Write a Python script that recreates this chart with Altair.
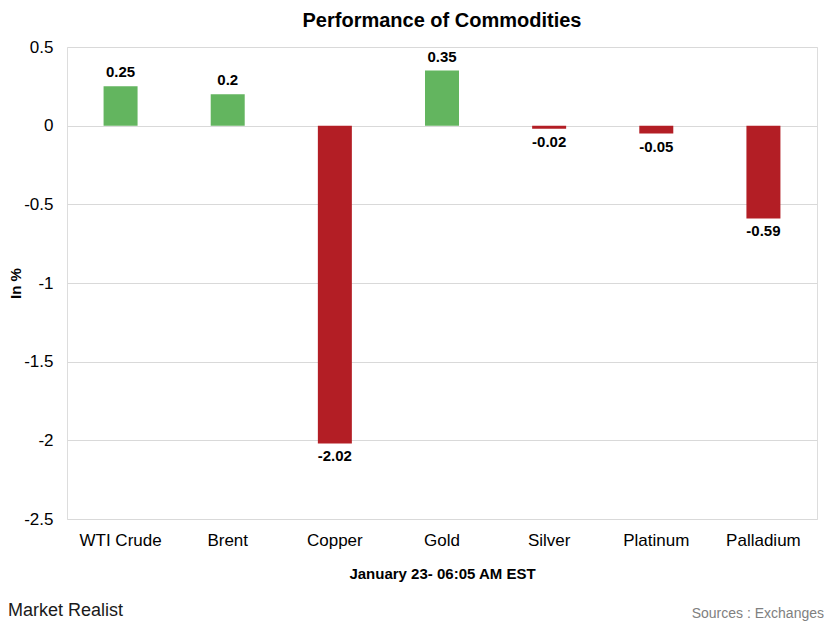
import altair as alt
import pandas as pd

categories = ["WTI Crude", "Brent", "Copper", "Gold", "Silver", "Platinum", "Palladium"]
values = [0.25, 0.2, -2.02, 0.35, -0.02, -0.05, -0.59]

df = pd.DataFrame({"commodity": categories, "value": values})

GREEN = "#63b55f"
RED = "#b31e25"
FONT = "Liberation Sans"

base = alt.Chart(df).transform_calculate(label="datum.value + ''")

x_enc = alt.X(
    "commodity:N",
    sort=None,
    scale=alt.Scale(paddingInner=0.68, paddingOuter=0.34),
    axis=alt.Axis(
        title="January 23- 06:05 AM EST",
        labelAngle=0,
        labelFontSize=17,
        labelFont=FONT,
        labelColor="#000000",
        labelPadding=13,
        ticks=False,
        domain=False,
        titleFont=FONT,
        titleFontSize=15,
        titleFontWeight="bold",
        titlePadding=18,
        titleColor="#000000",
    ),
)
y_enc = alt.Y(
    "value:Q",
    scale=alt.Scale(domain=[-2.5, 0.5], nice=False),
    axis=alt.Axis(
        title="In %",
        values=[0.5, 0, -0.5, -1, -1.5, -2, -2.5],
        labelExpr="datum.value + ''",
        labelFontSize=17,
        labelFont=FONT,
        labelColor="#000000",
        labelPadding=14,
        ticks=False,
        domain=False,
        grid=True,
        gridColor="#d9d9d9",
        gridWidth=1,
        titleFont=FONT,
        titleFontSize=15,
        titleFontWeight="bold",
        titleColor="#000000",
        titleX=-44,
        titleY=236,
        titleAngle=270,
        titleBaseline="bottom",
        titleAlign="center",
    ),
)

bars = base.mark_bar(size=34).encode(
    x=x_enc,
    y=y_enc,
    y2=alt.datum(0),
    color=alt.condition(alt.datum.value > 0, alt.value(GREEN), alt.value(RED)),
)

pos_labels = base.transform_filter(alt.datum.value > 0).mark_text(
    baseline="bottom", dy=-6, fontSize=15, fontWeight="bold", font=FONT, color="#000000"
).encode(x=alt.X("commodity:N", sort=None), y="value:Q", text="label:N")

neg_labels = base.transform_filter(alt.datum.value <= 0).mark_text(
    baseline="top", dy=6, fontSize=15, fontWeight="bold", font=FONT, color="#000000"
).encode(x=alt.X("commodity:N", sort=None), y="value:Q", text="label:N")

footer_left = alt.Chart(pd.DataFrame({"t": ["Market Realist"]})).mark_text(
    align="left", baseline="middle", fontSize=18, font=FONT, color="#1a1a1a"
).encode(x=alt.value(-59), y=alt.value(564), text="t:N")

footer_right = alt.Chart(pd.DataFrame({"t": ["Sources : Exchanges"]})).mark_text(
    align="right", baseline="middle", fontSize=14, font=FONT, color="#808080"
).encode(x=alt.value(757), y=alt.value(567), text="t:N")

chart = (
    alt.layer(bars, pos_labels, neg_labels, footer_left, footer_right)
    .properties(
        width=750,
        height=472,
        autosize=alt.AutoSizeParams(type="none"),
        padding={"left": 59, "top": 39, "right": 8, "bottom": 102},
        title=alt.TitleParams(
            "Performance of Commodities",
            font=FONT,
            fontSize=20,
            fontWeight="bold",
            color="#000000",
            anchor="middle",
            offset=7,
        ),
    )
    .configure_view(stroke=None)
    .configure(background="white")
)

chart.save("out.html", embed_options={"renderer": "svg", "actions": False})
